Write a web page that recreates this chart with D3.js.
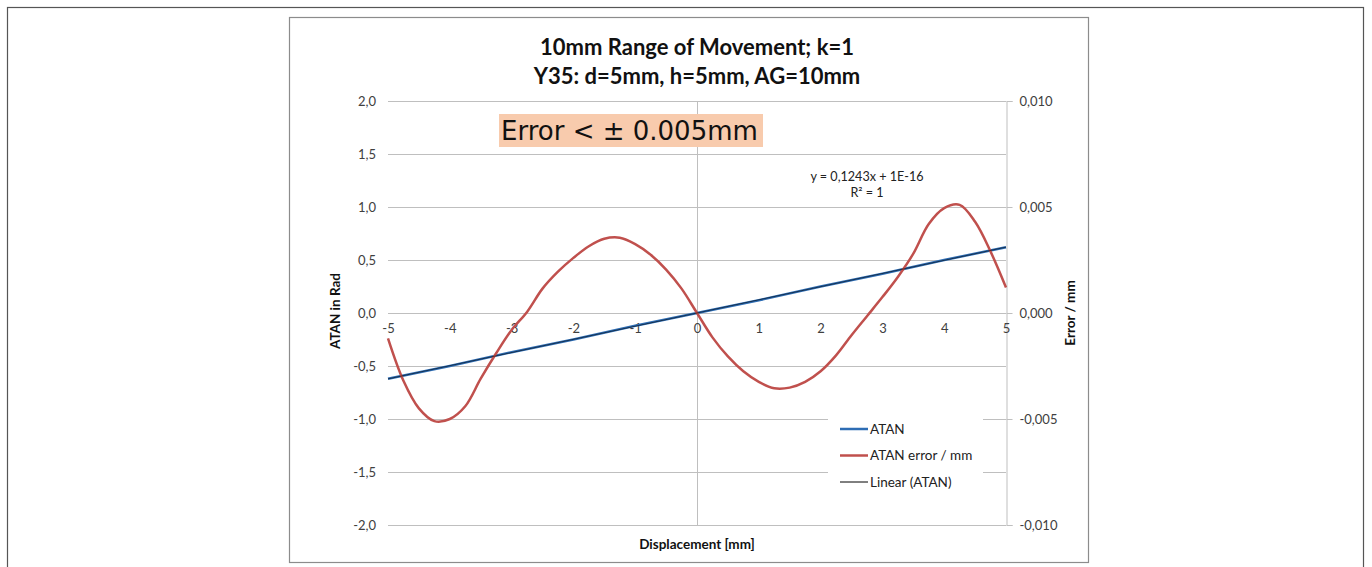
<!DOCTYPE html>
<html>
<head>
<meta charset="utf-8">
<script src="https://cdn.jsdelivr.net/npm/d3@7"></script>
<style>
  body { margin: 0; background: #fff; }
  svg { display: block; font-family: Lato, "Open Sans", sans-serif; }
</style>
</head>
<body>
<div id="chart"></div>
<script>
// Displacement positions (mm)
const xTicks = [-5, -4, -3, -2, -1, 0, 1, 2, 3, 4, 5];
const leftTicks = [-2, -1.5, -1, -0.5, 0, 0.5, 1, 1.5, 2];
const rightTicks = [-0.01, -0.005, 0, 0.005, 0.01];

// ATAN series (rad), read at each integer mm
const atanX = [-5, -4, -3, -2, -1, 0, 1, 2, 3, 4, 5];
const atanY = [-0.62, -0.50, -0.37, -0.25, -0.12, 0, 0.12, 0.25, 0.37, 0.50, 0.62];

// ATAN error series (mm), read every 0.25 mm
const errX = [-5, -4.75, -4.5, -4.25, -4, -3.75, -3.5, -3.25, -3, -2.75, -2.5, -2.25, -2,
  -1.75, -1.5, -1.25, -1, -0.75, -0.5, -0.25, 0, 0.25, 0.5, 0.75, 1, 1.25, 1.5, 1.75,
  2, 2.25, 2.5, 2.75, 3, 3.25, 3.5, 3.75, 4, 4.25, 4.5, 4.75, 5];
const errY = [-0.0012, -0.0032, -0.0045, -0.0051, -0.0050, -0.0044, -0.0031, -0.0019, -0.0008, 0.00005, 0.00115, 0.00195, 0.0026,
  0.00315, 0.0035, 0.00355, 0.00325, 0.00275, 0.00205, 0.00115, 0, -0.00115, -0.00205, -0.00275, -0.00325, -0.00355, -0.00352, -0.00325,
  -0.00275, -0.0020, -0.00105, -0.00015, 0.00075, 0.0017, 0.0028, 0.0042, 0.00495, 0.0051, 0.0043, 0.0029, 0.0012];

// Linear trendline (ATAN) end points
const trendX = [-5, 5];
const trendY = [-0.6215, 0.6215];

const titleLines = ["10mm Range of Movement; k=1", "Y35: d=5mm, h=5mm, AG=10mm"];
const legendItems = [
  { label: "ATAN", color: "#2e6db4", w: 2.5 },
  { label: "ATAN error / mm", color: "#c0504d", w: 2.5 },
  { label: "Linear (ATAN)", color: "#000", w: 1 }
];

const width = 1372, height = 567;
const plot = { left: 388, right: 1006, top: 101, bottom: 525 };

const svg = d3.select("#chart").append("svg")
  .attr("width", width)
  .attr("height", height);

// outer frame + chart box
svg.append("rect").attr("x", 7.5).attr("y", 7.5).attr("width", 1356).attr("height", 600)
  .attr("fill", "none").attr("stroke", "#555").attr("stroke-width", 1.2);
svg.append("rect").attr("x", 289.5).attr("y", 17.5).attr("width", 799).attr("height", 545)
  .attr("fill", "#fff").attr("stroke", "#8c8c8c").attr("stroke-width", 1.2);

const x = d3.scaleLinear().domain([-5, 5]).range([plot.left, plot.right]);
const yL = d3.scaleLinear().domain([-2, 2]).range([plot.bottom, plot.top]);
const yR = d3.scaleLinear().domain([-0.01, 0.01]).range([plot.bottom, plot.top]);

// horizontal gridlines
svg.append("g").selectAll("line").data(leftTicks).enter().append("line")
  .attr("x1", plot.left).attr("x2", plot.right)
  .attr("y1", d => Math.round(yL(d)) + 0.5).attr("y2", d => Math.round(yL(d)) + 0.5)
  .attr("stroke", "#bfbfbf").attr("stroke-width", 1);

// vertical axis at x=0
svg.append("line").attr("x1", Math.round(x(0)) + 0.5).attr("x2", Math.round(x(0)) + 0.5)
  .attr("y1", plot.top).attr("y2", plot.bottom).attr("stroke", "#bfbfbf");

// left axis labels
const leftAxis = svg.append("g")
  .attr("transform", `translate(${plot.left},0)`)
  .call(d3.axisLeft(yL).tickValues(leftTicks).tickSize(0).tickPadding(12)
    .tickFormat(d => d3.format(".1f")(d).replace(".", ",").replace("−", "-")));
leftAxis.select(".domain").remove();
leftAxis.selectAll("text").style("font-size", "13px").attr("fill", "#404040")
  .style("font-family", "Lato, sans-serif");

// right axis
const rightAxis = svg.append("g")
  .attr("transform", `translate(${plot.right + 0.5},0)`)
  .call(d3.axisRight(yR).tickValues(rightTicks).tickSize(6).tickPadding(7)
    .tickFormat(d => d3.format(".3f")(d).replace(".", ",").replace("−", "-")));
rightAxis.select(".domain").attr("stroke", "#bfbfbf");
rightAxis.selectAll(".tick line").attr("stroke", "#bfbfbf");
rightAxis.selectAll("text").style("font-size", "13px").attr("fill", "#404040")
  .style("font-family", "Lato, sans-serif");

// x axis labels on the zero line
const xAxis = svg.append("g")
  .attr("transform", `translate(0,${yL(0)})`)
  .call(d3.axisBottom(x).tickValues(xTicks).tickSize(0).tickPadding(11)
    .tickFormat(d => String(d)));
xAxis.select(".domain").remove();
xAxis.selectAll("text").style("font-size", "13px").attr("fill", "#404040")
  .style("font-family", "Lato, sans-serif");

// annotation box
const note = svg.append("g");
note.append("rect").attr("x", 499).attr("y", 114).attr("width", 264).attr("height", 33)
  .attr("fill", "#f8cbad");
note.append("text").attr("x", 501).attr("y", 140)
  .style("font-family", "'DejaVu Sans', sans-serif").style("font-size", "26px")
  .attr("fill", "#111").text("Error < ± 0.005mm");

// trendline equation
svg.append("text").attr("x", 867).attr("y", 181).attr("text-anchor", "middle")
  .style("font-size", "12.6px").attr("fill", "#222").text("y = 0,1243x + 1E-16");
svg.append("text").attr("x", 867).attr("y", 197).attr("text-anchor", "middle")
  .style("font-size", "12.6px").attr("fill", "#222").text("R² = 1");

// legend background
svg.append("rect").attr("x", 828).attr("y", 410).attr("width", 155).attr("height", 85)
  .attr("fill", "#fff");

// series
const lineL = d3.line().x(d => x(d[0])).y(d => yL(d[1]));
const lineR = d3.line().x(d => x(d[0])).y(d => yR(d[1])).curve(d3.curveCatmullRom.alpha(0.5));

svg.append("path").datum(atanX.map((v, i) => [v, atanY[i]]))
  .attr("d", lineL).attr("fill", "none").attr("stroke", "#2e6db4").attr("stroke-width", 2.5);
svg.append("path").datum(errX.map((v, i) => [v, errY[i]]))
  .attr("d", lineR).attr("fill", "none").attr("stroke", "#c0504d").attr("stroke-width", 2.5);
svg.append("path").datum(trendX.map((v, i) => [v, trendY[i]]))
  .attr("d", lineL).attr("fill", "none").attr("stroke", "#000").attr("stroke-width", 0.8)
  .attr("stroke-opacity", 0.7);

// legend
const legend = svg.append("g").attr("transform", "translate(840,429)");
legendItems.forEach((it, i) => {
  const g = legend.append("g").attr("transform", `translate(0,${i * 26.5})`);
  g.append("line").attr("x1", 0).attr("x2", 28).attr("y1", 0).attr("y2", 0)
    .attr("stroke", it.color).attr("stroke-width", it.w);
  g.append("text").attr("x", 30).attr("y", 4.5).style("font-size", "13.5px")
    .attr("fill", "#222").text(it.label);
});

// titles
titleLines.forEach((t, i) => {
  svg.append("text").attr("x", 697).attr("y", 55 + i * 29).attr("text-anchor", "middle")
    .style("font-size", "22px").style("font-weight", "bold").attr("fill", "#111").text(t);
});

// axis titles
svg.append("text").attr("x", 697).attr("y", 549).attr("text-anchor", "middle")
  .style("font-size", "13.5px").style("font-weight", "bold").attr("fill", "#111")
  .text("Displacement [mm]");
svg.append("text").attr("transform", "translate(340,311) rotate(-90)").attr("text-anchor", "middle")
  .style("font-size", "13.5px").style("font-weight", "bold").attr("fill", "#111")
  .text("ATAN  in Rad");
svg.append("text").attr("transform", "translate(1075,313) rotate(-90)").attr("text-anchor", "middle")
  .style("font-size", "13.5px").style("font-weight", "bold").attr("fill", "#111")
  .text("Error / mm");
</script>
</body>
</html>
